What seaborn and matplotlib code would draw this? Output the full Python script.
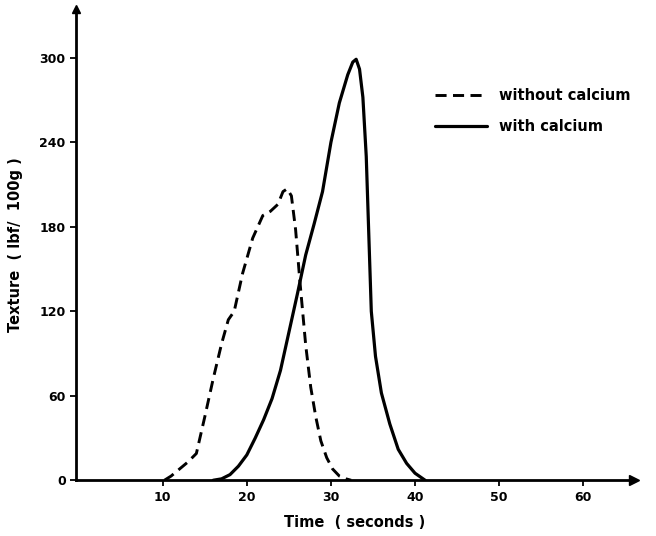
import matplotlib
matplotlib.use("Agg")
import matplotlib.pyplot as plt
import seaborn as sns
import pandas as pd

# --- data ---
time_without = [10.2, 11, 12, 13, 14, 15, 16, 17, 17.8, 18.5, 19.5, 20.7, 21.9,
                22.8, 23.7, 24.3, 24.8, 25.3, 25.8, 26.3, 27.0, 27.6, 28.2,
                28.8, 29.5, 30.2, 31.0, 31.8, 32.4]
texture_without = [0, 3, 8, 13, 19, 45, 72, 97, 114, 120, 147, 172, 188,
                   191, 196, 205, 207, 202, 178, 142, 96, 66, 45,
                   28, 16, 8, 3, 1, 0]

time_with = [16, 17, 18, 19, 20, 21, 22, 23, 24, 25, 26, 27, 28, 29, 30, 31,
             32, 32.6, 33, 33.4, 33.8, 34.2, 34.5, 34.8, 35.3, 36, 37, 38,
             39, 40, 41.2]
texture_with = [0, 1, 4, 10, 18, 30, 43, 58, 78, 105, 132, 160, 182, 205, 240,
                268, 288, 297, 299, 292, 272, 230, 175, 120, 88, 62, 40, 22,
                12, 5, 0]

x_ticks = [10, 20, 30, 40, 50, 60]
y_ticks = [0, 60, 120, 180, 240, 300]

df_without = pd.DataFrame({"time": time_without, "texture": texture_without})
df_with = pd.DataFrame({"time": time_with, "texture": texture_with})

sns.set_style("ticks")
plt.rcParams['font.family'] = ['DejaVu Sans']
plt.rcParams['text.color'] = 'black'
plt.rcParams['axes.labelcolor'] = 'black'
plt.rcParams['xtick.color'] = 'black'
plt.rcParams['ytick.color'] = 'black'
plt.rcParams['axes.edgecolor'] = 'black'

fig = plt.figure(figsize=(6.56, 5.36), dpi=100)
ax = fig.add_axes([0.116, 0.104, 0.85, 0.88])

sns.lineplot(data=df_without, x="time", y="texture", ax=ax, color="black",
             linewidth=2.1, sort=False, label="without calcium")
ax.lines[-1].set_dashes((3.8, 2.2))
sns.lineplot(data=df_with, x="time", y="texture", ax=ax, color="black",
             linewidth=2.3, sort=False, label="with calcium")

ax.set_xlim(-0.3, 66)
ax.set_ylim(0, 335)
ax.set_xticks(x_ticks)
ax.set_yticks(y_ticks)
ax.tick_params(axis="both", direction="out", length=4, width=1.3,
               labelsize=9)
for lab in ax.get_xticklabels() + ax.get_yticklabels():
    lab.set_fontweight("bold")

sns.despine(ax=ax)
ax.spines["left"].set_linewidth(2)
ax.spines["bottom"].set_linewidth(2)

# arrow heads on the axes
ax.plot(1, 0, marker=">", color="black", markersize=7,
        transform=ax.transAxes, clip_on=False)
ax.plot(0, 1, marker="^", color="black", markersize=6,
        transform=ax.transAxes, clip_on=False)

ax.set_xlabel("Time  ( seconds )", fontsize=10.5, fontweight="bold",
              labelpad=8)
ax.set_ylabel("Texture  ( lbf/  100g )", fontsize=10.5, fontweight="bold",
              labelpad=12)

leg = ax.legend(loc="upper left", bbox_to_anchor=(0.62, 0.86), frameon=False,
                handlelength=3.6, fontsize=10.5, labelspacing=1.1,
                handletextpad=0.8)
for t in leg.get_texts():
    t.set_fontweight("bold")

fig.savefig("out.png", dpi=100)
